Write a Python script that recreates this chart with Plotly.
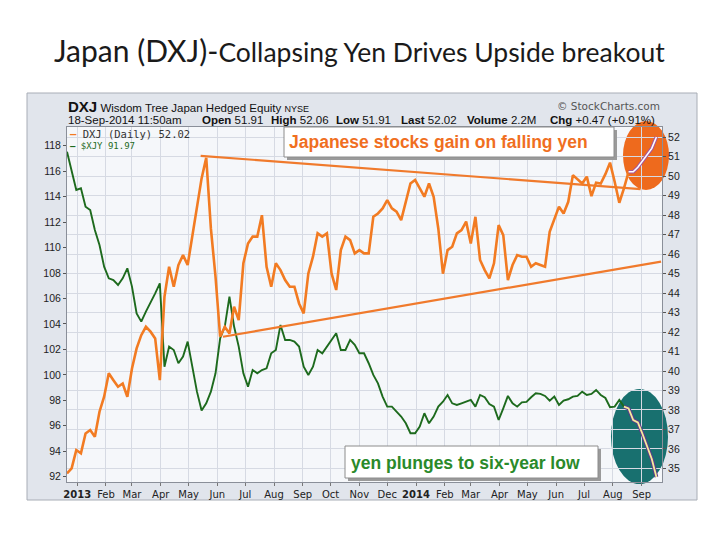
import plotly.graph_objects as go
import pandas as pd

# ---------------- data ----------------
dates = pd.date_range("2012-12-21", periods=128, freq="5D")

dxj = [34.74, 35.00, 35.94, 35.77, 36.79, 36.97, 36.62, 37.91, 38.68, 39.88,
       39.53, 39.19, 39.36, 38.68, 40.13, 41.16, 41.84, 42.27, 42.02, 41.67,
       39.53, 43.81, 45.35, 44.33, 45.44, 45.95, 45.44, 46.90, 48.44, 49.89,
       50.95, 47.32, 44.84, 41.76, 42.27, 41.93, 43.30, 42.61, 45.53, 46.55,
       46.90,
       46.90, 48.00, 45.35, 44.33, 45.53, 45.18, 44.67, 44.33, 44.33, 43.47,
       42.96, 45.01, 45.87, 47.07, 46.90, 47.07, 45.01, 44.16, 46.21, 46.90,
       46.72, 46.04, 46.21, 46.04, 46.04, 47.92, 48.09, 48.35, 48.78, 48.35,
       48.18, 47.75, 48.69, 49.63, 49.81, 49.38, 48.95, 49.63, 48.95, 47.32,
       45.00, 46.21, 46.38, 47.07, 47.24, 47.67, 46.55, 47.92, 45.70, 45.18,
       44.76, 45.53, 47.49, 46.98, 44.67, 45.44, 45.95, 45.87, 45.87, 45.35,
       45.53, 45.44, 45.35, 47.15, 47.84, 48.44, 48.09, 48.69, 50.06, 49.84,
       49.63, 49.98, 48.98, 49.67, 49.63, 50.11, 50.70, 49.72, 48.64, 49.38,
       50.23, 50.23, 50.46, 50.80, 51.14, 51.43, 52.02]

xjy = [117.53, 116.09, 114.52, 114.65, 113.21, 112.95, 111.38, 110.20, 108.50, 107.58,
       107.45, 107.06, 107.58, 108.37, 106.93, 104.83, 104.18, 104.96, 105.62, 106.40,
       107.19, 100.64, 102.22, 101.95, 100.91, 101.43, 102.61, 100.64, 98.68, 97.20,
       97.76, 98.68, 100.12, 102.87, 103.79, 106.14, 103.79, 102.22, 100.12, 99.07,
       100.38,
       100.12, 100.38, 100.51, 101.69, 101.95, 103.92, 102.74, 102.74, 102.61, 102.22,
       100.64, 99.99, 100.64, 101.95, 101.69, 102.22, 102.74, 103.26, 101.95, 101.95,
       102.74, 102.35, 101.69, 101.69, 100.91, 99.99, 99.33, 98.29, 97.50, 97.50,
       97.11, 96.72, 96.19, 95.41, 95.41, 95.93, 96.98, 96.19, 96.72, 97.50,
       97.89, 98.42, 97.76, 97.63, 97.76, 97.89, 98.03, 97.50, 98.42, 98.24,
       97.71, 97.50, 96.45, 97.37, 98.34, 97.76, 97.50, 97.84, 97.87, 98.24,
       98.55, 98.50, 98.34, 97.97, 98.29, 97.63, 97.97, 98.08, 98.29, 98.34,
       98.68, 98.42, 98.50, 98.81, 98.42, 98.18, 97.45, 97.50, 98.03, 97.50,
       97.36, 96.45, 96.26, 95.35, 94.41, 93.39, 91.97]

upper_dates = ["2013-05-14", "2014-08-31"]
upper_vals = [51.05, 49.34]
lower_dates = ["2013-06-07", "2014-09-22"]
lower_vals = [41.76, 45.62]

month_ticks = pd.date_range("2013-01-01", "2014-09-01", freq="MS")
month_text = ["<b>2013</b>", "Feb", "Mar", "Apr", "May", "Jun", "Jul", "Aug", "Sep",
              "Oct", "Nov", "Dec", "<b>2014</b>", "Feb", "Mar", "Apr", "May", "Jun",
              "Jul", "Aug", "Sep"]
left_ticks = list(range(92, 119, 2))
right_ticks = list(range(35, 53))

header_labels = ["Open", "High", "Low", "Last", "Volume", "Chg"]
header_values = ["51.91", "52.06", "51.91", "52.02", "2.2M", "+0.47 (+0.91%)"]

HL_O = 121   # start of highlighted segment (orange circle)
HL_G = 120   # start of highlighted segment (teal circle)

# ---------------- style ----------------
ORANGE = "#f27b22"
GREEN = "#1d6a1d"
OFF = 8                      # page body margin
W, H = 720 - OFF, 540 - OFF
L, R, T, B = 67, 662, 127, 482   # plot area in window pixels


def PX(x):
    return (x - L) / (R - L)


def PY(y):
    return (B - y) / (B - T)


fig = go.Figure()

# trend lines
fig.add_trace(go.Scatter(x=upper_dates, y=upper_vals, yaxis="y2", mode="lines",
                         line=dict(color="#f07a2c", width=2.2)))
fig.add_trace(go.Scatter(x=lower_dates, y=lower_vals, yaxis="y2", mode="lines",
                         line=dict(color="#f07a2c", width=2.2)))

# main series
fig.add_trace(go.Scatter(x=dates[:HL_G + 1], y=xjy[:HL_G + 1], yaxis="y", mode="lines",
                         line=dict(color=GREEN, width=1.9)))
fig.add_trace(go.Scatter(x=dates[:HL_O + 1], y=dxj[:HL_O + 1], yaxis="y2", mode="lines",
                         line=dict(color=ORANGE, width=2.6)))

# highlighted ends (inside circles)
fig.add_trace(go.Scatter(x=dates[HL_G:], y=xjy[HL_G:], yaxis="y", mode="lines",
                         line=dict(color="#5e3a8c", width=3.8)))
fig.add_trace(go.Scatter(x=dates[HL_G:], y=xjy[HL_G:], yaxis="y", mode="lines",
                         line=dict(color="#f5ec9a", width=1.8)))
fig.add_trace(go.Scatter(x=dates[HL_O:], y=dxj[HL_O:], yaxis="y2", mode="lines",
                         line=dict(color="#a5559e", width=3.6)))
fig.add_trace(go.Scatter(x=dates[HL_O:], y=dxj[HL_O:], yaxis="y2", mode="lines",
                         line=dict(color="#ffffff", width=1.6)))

shapes = [
    # StockCharts panel
    dict(type="rect", xref="paper", yref="paper", x0=PX(27), x1=PX(697), y0=PY(500), y1=PY(93),
         fillcolor="#e1e5ec", line=dict(color="#a8adb6", width=1), layer="below"),
    # plot area
    dict(type="rect", xref="paper", yref="paper", x0=0, x1=1, y0=0, y1=1,
         fillcolor="#f5f7fa", line=dict(width=0), layer="below"),
    # circles
    dict(type="circle", xref="paper", yref="paper", x0=PX(623), x1=PX(669), y0=PY(190), y1=PY(121),
         fillcolor="#ee6a1d", line=dict(width=0), layer="between"),
    dict(type="circle", xref="paper", yref="paper", x0=PX(611), x1=PX(668), y0=PY(484), y1=PY(389),
         fillcolor="#18706f", line=dict(width=0), layer="between"),
    # annotation boxes (shadow + box)
    dict(type="rect", xref="paper", yref="paper", x0=PX(287), x1=PX(617), y0=PY(160), y1=PY(130),
         fillcolor="#9a9a9a", line=dict(width=0), layer="above"),
    dict(type="rect", xref="paper", yref="paper", x0=PX(284), x1=PX(614), y0=PY(157), y1=PY(127),
         fillcolor="#ffffff", line=dict(color="#8c8c8c", width=1), layer="above"),
    dict(type="rect", xref="paper", yref="paper", x0=PX(348), x1=PX(601), y0=PY(481), y1=PY(449),
         fillcolor="#9a9a9a", line=dict(width=0), layer="above"),
    dict(type="rect", xref="paper", yref="paper", x0=PX(345), x1=PX(598), y0=PY(478), y1=PY(446),
         fillcolor="#ffffff", line=dict(color="#8c8c8c", width=1), layer="above"),
]

ann = []
ann.append(dict(x=PX(52), y=PY(50), xref="paper", yref="paper", xanchor="left", yanchor="middle",
                showarrow=False,
                text="<span style='font-size:30px'>Japan (DXJ)-</span>"
                     "<span style='font-size:26.5px'>Collapsing Yen Drives Upside breakout</span>",
                font=dict(family="Lato", color="#1a1a1a", size=26)))
ann.append(dict(x=PX(66), y=PY(106), xref="paper", yref="paper", xanchor="left", yanchor="middle",
                showarrow=False,
                text="<span style='font-size:15px'><b>DXJ</b></span> Wisdom Tree Japan Hedged Equity "
                     "<span style='font-size:9px'>NYSE</span>",
                font=dict(family="Liberation Sans", color="#111111", size=11.5)))
ann.append(dict(x=PX(662), y=PY(106), xref="paper", yref="paper", xanchor="right", yanchor="middle",
                showarrow=False, text="© StockCharts.com",
                font=dict(family="DejaVu Sans", color="#555555", size=10.5)))
ann.append(dict(x=PX(66), y=PY(120), xref="paper", yref="paper", xanchor="left", yanchor="middle",
                showarrow=False, text="18-Sep-2014 11:50am",
                font=dict(family="Liberation Sans", color="#111111", size=11.5)))
hx = [200, 269, 334, 399, 465, 548]
for xx, lab, val in zip(hx, header_labels, header_values):
    ann.append(dict(x=PX(xx), y=PY(120), xref="paper", yref="paper", xanchor="left", yanchor="middle",
                    showarrow=False, text=f"<b>{lab}</b> {val}",
                    font=dict(family="Liberation Sans", color="#111111", size=11.5)))
# legend
ann.append(dict(x=PX(68), y=PY(134), xref="paper", yref="paper", xanchor="left", yanchor="middle",
                showarrow=False,
                text=f"<span style='color:{ORANGE}'><b>—</b></span> DXJ (Daily) 52.02",
                font=dict(family="DejaVu Sans Mono", color="#333333", size=10.5)))
ann.append(dict(x=PX(68), y=PY(146), xref="paper", yref="paper", xanchor="left", yanchor="middle",
                showarrow=False, text="<b>—</b> $XJY 91.97",
                font=dict(family="DejaVu Sans Mono", color=GREEN, size=9)))
# call-outs
ann.append(dict(x=PX(287), y=PY(142), xref="paper", yref="paper", xanchor="left", yanchor="middle",
                showarrow=False, text="<b>Japanese stocks gain on falling yen</b>",
                font=dict(family="Liberation Sans", color="#f06f1f", size=17.5)))
ann.append(dict(x=PX(349), y=PY(463), xref="paper", yref="paper", xanchor="left", yanchor="middle",
                showarrow=False, text="<b>yen plunges to six-year low</b>",
                font=dict(family="Liberation Sans", color="#2a8a2a", size=17.5)))

fig.update_layout(
    width=W, height=H,
    margin=dict(l=L - OFF, r=W - (R - OFF), t=T - OFF, b=H - (B - OFF), pad=0),
    paper_bgcolor="#ffffff",
    plot_bgcolor="rgba(0,0,0,0)",
    showlegend=False,
    shapes=shapes,
    annotations=ann,
    xaxis=dict(type="date", range=["2012-12-21", "2014-09-23"],
               tickmode="array", tickvals=month_ticks, ticktext=month_text,
               showgrid=True, gridcolor="#d6dae3", gridwidth=1,
               showline=True, linecolor="#8a8f99", mirror=True,
               ticks="outside", ticklen=3, tickcolor="#777777",
               tickfont=dict(family="DejaVu Sans", size=10, color="#222222"),
               zeroline=False),
    yaxis=dict(range=[91.58, 119.47], tickmode="array", tickvals=left_ticks,
               showgrid=False, showline=True, linecolor="#8a8f99",
               ticks="outside", ticklen=3, tickcolor="#555555",
               tickfont=dict(family="Liberation Sans", size=10.5, color="#222222"),
               zeroline=False),
    yaxis2=dict(range=[34.30, 52.53], overlaying="y", side="right",
                tickmode="array", tickvals=right_ticks,
                showgrid=True, gridcolor="#d6dae3", gridwidth=1,
                showline=True, linecolor="#8a8f99",
                ticks="outside", ticklen=3, tickcolor="#555555",
                tickfont=dict(family="Liberation Sans", size=10.5, color="#222222"),
                zeroline=False),
)

fig.write_html("out.html")
